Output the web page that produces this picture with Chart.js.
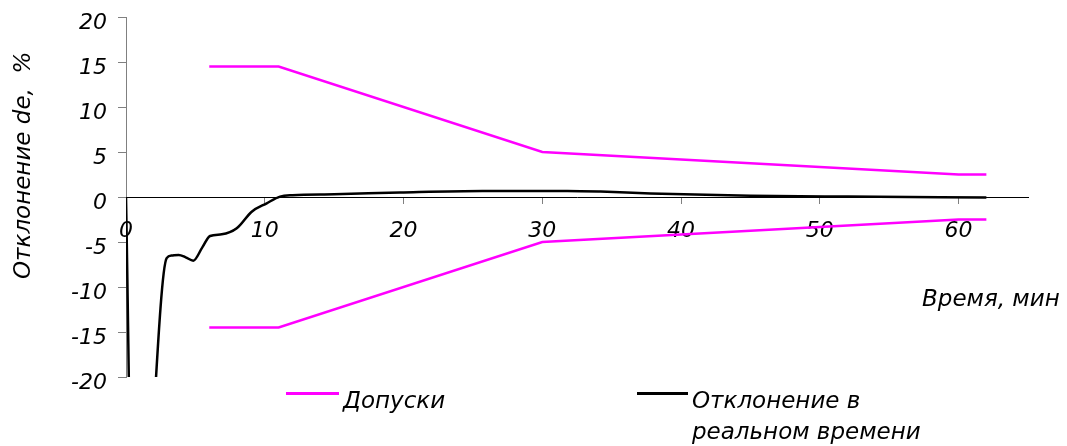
<!DOCTYPE html>
<html>
<head>
<meta charset="utf-8">
<script src="https://cdn.jsdelivr.net/npm/chart.js@4/dist/chart.umd.min.js"></script>
<style>
  html, body { margin: 0; padding: 0; background: #fff; }
  #wrap { position: relative; width: 1067px; height: 446px; overflow: hidden; }
  canvas { position: absolute; left: 0; top: 0; }
  .t { position: absolute; font-family: 'DejaVu Sans', sans-serif; font-style: italic; font-size: 23px; line-height: 23px; color: #000; white-space: nowrap; }
  .ln { position: absolute; height: 3px; }
</style>
</head>
<body>
<div id="wrap">
  <canvas id="c" width="1067" height="446"></canvas>
  <div class="t" id="ytitle" style="left:0;top:0;">Отклонение de,&nbsp; %</div>
  <div class="t" style="left:922px;top:287px;">Время, мин</div>
  <div class="ln" style="left:286px;top:392px;width:53px;background:#FF00FF;"></div>
  <div class="t" style="left:343px;top:389px;">Допуски</div>
  <div class="ln" style="left:637px;top:392px;width:51px;background:#000;"></div>
  <div class="t" style="left:692px;line-height:31px;top:385px;">Отклонение в<br>реальном времени</div>
</div>
<script>
// Tolerance band (minutes, %)
const tolX = [6, 11, 30, 60, 62];
const tolUpper = [14.5, 14.5, 5, 2.5, 2.5];
const tolLower = [-14.5, -14.5, -5, -2.5, -2.5];
// Real-time deviation (minutes, %)
const devX = [0, 0.5, 1.1, 2.93, 3.3, 3.8, 4.3, 4.85, 5.5, 6.06, 6.9, 7.98, 9.06, 10.14, 11.1, 12.0, 15, 19.75, 25.7, 31.8, 34.2, 37.8, 45, 52, 62];
const devY = [0, -40, -40, -6.8, -6.5, -6.44, -6.7, -7.07, -5.6, -4.33, -4.15, -3.48, -1.63, -0.7, 0.04, 0.2, 0.3, 0.5, 0.67, 0.67, 0.6, 0.4, 0.15, 0.05, -0.05];
// Axis ticks
const xTicks = [0, 10, 20, 30, 40, 50, 60];
const yTicks = [-20, -15, -10, -5, 0, 5, 10, 15, 20];

const pts = (xs, ys) => xs.map((x, i) => ({ x: x, y: ys[i] }));

// rotate y title
const yt = document.getElementById('ytitle');
yt.style.transformOrigin = '0 0';
yt.style.transform = 'rotate(-90deg)';
yt.style.left = '11px';
yt.style.top = '279px';

const tickFont = { family: 'DejaVu Sans', style: 'italic', size: 22 };

new Chart(document.getElementById('c'), {
  type: 'line',
  data: {
    datasets: [
      { label: 'Допуски', data: pts(tolX, tolUpper), borderColor: '#FF00FF', borderWidth: 2.5, pointRadius: 0, tension: 0, fill: false },
      { label: 'Допуски', data: pts(tolX, tolLower), borderColor: '#FF00FF', borderWidth: 2.5, pointRadius: 0, tension: 0, fill: false },
      { label: 'Отклонение в реальном времени', data: pts(devX, devY), borderColor: '#000000', borderWidth: 2.5, pointRadius: 0, cubicInterpolationMode: 'monotone', fill: false }
    ]
  },
  options: {
    responsive: false,
    animation: false,
    events: [],
    layout: { padding: { top: 17, right: 39, bottom: 69, left: 0 } },
    plugins: { legend: { display: false }, tooltip: { enabled: false } },
    scales: {
      x: {
        type: 'linear', min: 0, max: 65,
        position: { y: 0 },
        afterBuildTicks: (s) => { s.ticks = xTicks.map(v => ({ value: v })); },
        ticks: { color: '#000', font: tickFont, padding: 15, maxRotation: 0, autoSkip: false },
        grid: { drawOnChartArea: false, drawTicks: true, tickLength: 6, color: '#808080' },
        border: { color: '#000', width: 1 }
      },
      y: {
        type: 'linear', min: -20, max: 20,
        afterBuildTicks: (s) => { s.ticks = yTicks.map(v => ({ value: v })); },
        afterFit: (s) => { s.width = 126; s.paddingTop = 0; s.paddingBottom = 0; },
        ticks: {
          color: '#000',
          font: { family: 'DejaVu Sans', style: 'italic', size: 22, lineHeight: 13 / 22 },
          padding: 11, autoSkip: false,
          callback: (v) => ['', String(v)]
        },
        grid: { drawOnChartArea: false, drawTicks: true, tickLength: 8, color: '#808080' },
        border: { color: '#808080', width: 1 }
      }
    }
  }
});
</script>
</body>
</html>
